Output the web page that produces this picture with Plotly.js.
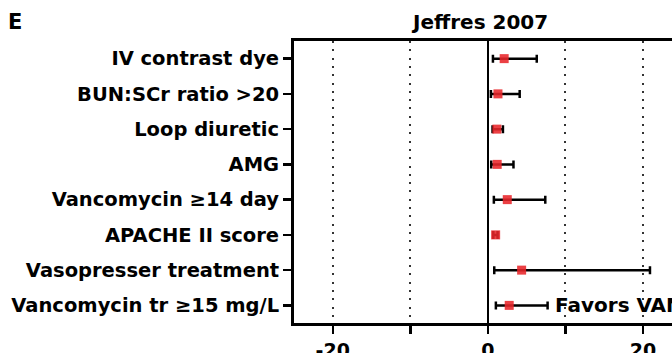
<!DOCTYPE html>
<html>
<head>
<meta charset="utf-8">
<script src="https://cdn.plot.ly/plotly-3.0.1.min.js"></script>
<style>html,body{margin:0;padding:0;overflow:hidden;background:#fff;}</style>
</head>
<body>
<div id="chart" style="width:672px;height:353px;"></div>
<script>
const categories = ["IV contrast dye", "BUN:SCr ratio >20", "Loop diuretic", "AMG",
  "Vancomycin ≥14 day", "APACHE II score", "Vasopresser treatment", "Vancomycin tr ≥15 mg/L"];
const oddsRatio = [2.1, 1.3, 1.16, 1.2, 2.5, 1.0, 4.35, 2.75];
const ciLow = [0.65, 0.39, 0.6, 0.43, 0.77, 0.7, 0.82, 1.03];
const ciHigh = [6.3, 4.1, 1.94, 3.3, 7.4, 1.25, 20.9, 7.7];
const tickValues = [-20, -10, 0, 10, 20];
const tickLabels = ["-20", "", "0", "", "20"];

const font = "DejaVu Sans, Verdana, sans-serif";

const trace = {
  type: "scatter",
  mode: "markers",
  x: oddsRatio,
  y: categories,
  marker: {symbol: "square", size: 9, color: "#e8262a", opacity: 0.88},
  error_x: {
    type: "data", symmetric: false,
    array: oddsRatio.map((v, i) => ciHigh[i] - v),
    arrayminus: oddsRatio.map((v, i) => v - ciLow[i]),
    color: "#000", thickness: 2.5, width: 4
  },
  cliponaxis: false,
  hoverinfo: "skip"
};

const layout = {
  width: 672, height: 353,
  margin: {l: 294, r: 0, t: 41, b: 30},
  paper_bgcolor: "#fff", plot_bgcolor: "#fff",
  showlegend: false,
  font: {family: font, color: "#000"},
  xaxis: {
    range: [-25, 23.74],
    tickmode: "array", tickvals: tickValues, ticktext: tickLabels,
    ticks: "outside", ticklen: 8, tickwidth: 2.5, tickcolor: "#000",
    tickfont: {family: font, size: 19, color: "#000", weight: "bold"},
    showline: true, linewidth: 3, linecolor: "#000", mirror: true,
    showgrid: true, gridcolor: "#333", gridwidth: 2, griddash: "2px,6.3px",
    zeroline: true, zerolinecolor: "#000", zerolinewidth: 2.5,
    fixedrange: true
  },
  yaxis: {
    type: "category", autorange: false, range: [7.5, -0.5],
    categoryorder: "array", categoryarray: categories,
    ticks: "outside", ticklen: 8, tickwidth: 2.5, tickcolor: "#000",
    tickfont: {family: font, size: 19.5, color: "#000", weight: "bold"},
    showline: true, linewidth: 3, linecolor: "#000", mirror: false,
    showgrid: false, zeroline: false,
    fixedrange: true
  },
  annotations: [
    {text: "E", xref: "paper", yref: "paper", x: -288/378, y: 1, yshift: 5,
     xanchor: "left", yanchor: "bottom", showarrow: false,
     font: {family: font, size: 21, color: "#000", weight: "bold"}},
    {text: "Jeffres 2007", xref: "x", yref: "paper", x: -1.1, y: 1, yshift: 5,
     xanchor: "center", yanchor: "bottom", showarrow: false,
     font: {family: font, size: 20, color: "#000", weight: "bold"}},
    {text: "Favors VANCOMYCIN", xref: "x", yref: "y", x: 8.4, y: categories[7],
     xanchor: "left", yanchor: "middle", showarrow: false,
     font: {family: font, size: 20, color: "#000", weight: "bold"}}
  ]
};

Plotly.newPlot("chart", [trace], layout, {staticPlot: true, displayModeBar: false});
</script>
</body>
</html>
